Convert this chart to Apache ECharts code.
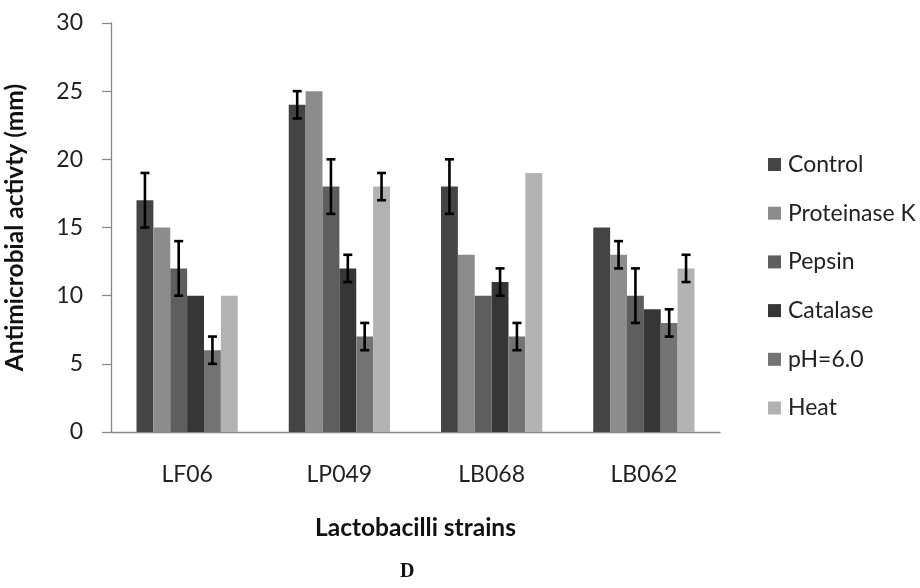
<!DOCTYPE html>
<html><head><meta charset="utf-8">
<script src="https://cdn.jsdelivr.net/npm/echarts@6/dist/echarts.min.js"></script>
<style>html,body{margin:0;padding:0;background:#fff}#c{width:920px;height:588px}</style>
</head><body><div id="c"></div>
<script>
const categories = ['LF06', 'LP049', 'LB068', 'LB062'];
const seriesNames = ['Control', 'Proteinase K', 'Pepsin', 'Catalase', 'pH=6.0', 'Heat'];
const control     = [17, 24, 18, 15];
const proteinaseK = [15, 25, 13, 13];
const pepsin      = [12, 18, 10, 10];
const catalase    = [10, 12, 11, 9];
const ph6         = [6, 7, 7, 8];
const heat        = [10, 18, 19, 12];
const errControl     = [2, 1, 2, 0];
const errProteinaseK = [0, 0, 0, 1];
const errPepsin      = [2, 2, 0, 2];
const errCatalase    = [0, 1, 1, 0];
const errPh6         = [1, 1, 1, 1];
const errHeat        = [0, 1, 0, 1];
const yTicks = [0, 5, 10, 15, 20, 25, 30];

const values = [control, proteinaseK, pepsin, catalase, ph6, heat];
const errors = [errControl, errProteinaseK, errPepsin, errCatalase, errPh6, errHeat];
const colors = ['#444444', '#8c8c8c', '#5e5e5e', '#363636', '#737373', '#b3b3b3'];
const catGap = 0.335;
const nSeries = seriesNames.length;

const errData = [];
errors.forEach((arr, s) => arr.forEach((e, c) => {
  if (e > 0) errData.push([c, values[s][c] - e, values[s][c] + e, s]);
}));

const font = 'Lato, "Open Sans", sans-serif';
const chart = echarts.init(document.getElementById('c'), null, {renderer: 'canvas'});
const series = seriesNames.map((n, i) => ({
  name: n, type: 'bar', data: values[i], barGap: '0%', barCategoryGap: (catGap * 100) + '%',
  itemStyle: {color: colors[i]}, emphasis: {disabled: true}
}));
series.push({
  type: 'custom', name: 'err', silent: true, z: 10,
  data: errData,
  encode: {x: 0, y: [1, 2]},
  renderItem: function (params, api) {
    const c = api.value(0), lo = api.value(1), hi = api.value(2), s = api.value(3);
    const band = api.size([1, 0])[0];
    const group = band * (1 - catGap);
    const bw = group / nSeries;
    const base = api.coord([c, lo]);
    const top = api.coord([c, hi]);
    const x = base[0] - group / 2 + (s + 0.5) * bw;
    const cap = 4.5;
    const st = {stroke: '#000', lineWidth: 2.6};
    return {type: 'group', children: [
      {type: 'line', shape: {x1: x, y1: base[1], x2: x, y2: top[1]}, style: st},
      {type: 'line', shape: {x1: x - cap, y1: base[1], x2: x + cap, y2: base[1]}, style: st},
      {type: 'line', shape: {x1: x - cap, y1: top[1], x2: x + cap, y2: top[1]}, style: st}
    ]};
  }
});

chart.setOption({
  animation: false,
  backgroundColor: '#fff',
  grid: {left: 111, right: 200, top: 23, bottom: 156, containLabel: false, outerBoundsMode: 'none'},
  legend: {
    data: seriesNames, orient: 'vertical', left: 763, top: 148, itemGap: 25.7,
    itemWidth: 13, itemHeight: 13, icon: 'rect',
    textStyle: {fontFamily: font, fontSize: 23, color: '#222', padding: [0, 0, 0, 2]},
    selectedMode: false
  },
  xAxis: {
    type: 'category', data: categories,
    name: 'Lactobacilli strains', nameLocation: 'middle', nameGap: 84,
    nameTextStyle: {fontFamily: font, fontSize: 24.5, fontWeight: 'bold', color: '#111'},
    axisLine: {lineStyle: {color: '#888', width: 1.3}},
    axisTick: {show: false},
    axisLabel: {fontFamily: font, fontSize: 23, color: '#222', margin: 31}
  },
  yAxis: {
    type: 'value', min: yTicks[0], max: yTicks[yTicks.length - 1], interval: 5,
    name: 'Antimicrobial activty (mm)', nameLocation: 'middle', nameGap: 83,
    nameTextStyle: {fontFamily: font, fontSize: 24.5, fontWeight: 'bold', color: '#111'},
    axisLine: {show: true, lineStyle: {color: '#888', width: 1.3}},
    axisTick: {show: true, length: 9, lineStyle: {color: '#888', width: 1.3}},
    axisLabel: {fontFamily: font, fontSize: 23, color: '#222', margin: 28},
    splitLine: {show: false}
  },
  graphic: [{
    type: 'text', left: 400, top: 562,
    style: {text: 'D', fontFamily: '"Liberation Serif", serif', fontWeight: 'bold', fontSize: 20, fill: '#111'}
  }],
  series: series
});
</script></body></html>
